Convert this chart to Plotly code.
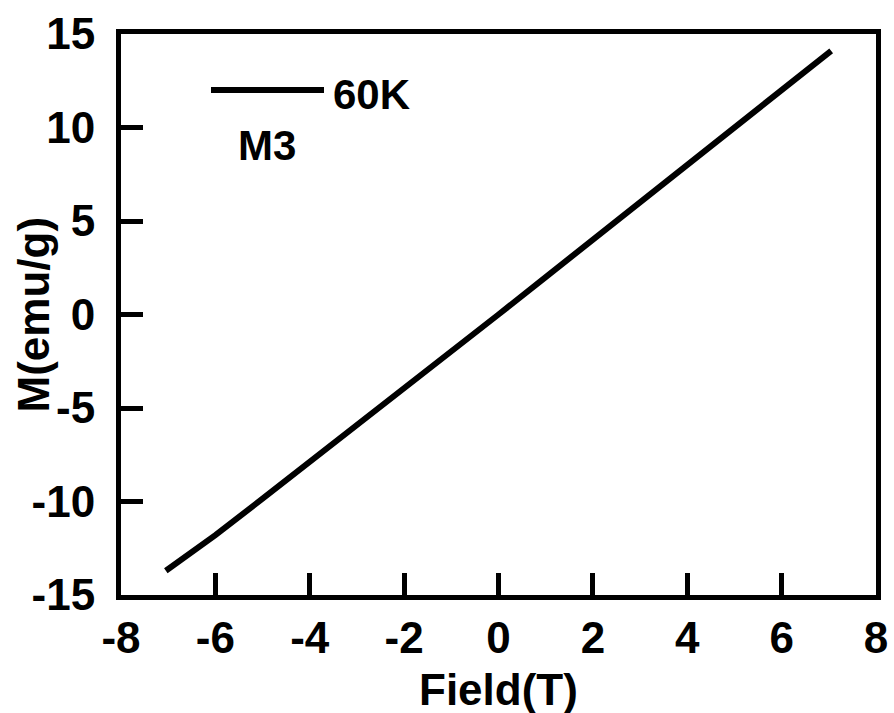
import plotly.graph_objects as go

# M(H) loop of sample M3 at 60 K
field_T = [-7.05, -6, -5, -4, -3, -2, -1, 0, 1, 2, 3, 4, 5, 6, 7.05]
moment_emu_g = [-13.7, -11.8, -9.85, -7.9, -5.9, -3.95, -1.97, 0.0,
                2.0, 4.0, 6.0, 8.05, 10.05, 12.05, 14.1]

x_ticks = [-8, -6, -4, -2, 0, 2, 4, 6, 8]
x_ticktext = ["-8", "-6", "-4", "-2", "0", "2", "4", "6", "8"]
y_ticks = [-15, -10, -5, 0, 5, 10, 15]
y_ticktext = ["-15", "-10", "-5", "0", "5", "10", "15"]

FONT = "Liberation Sans, Arial, sans-serif"

fig = go.Figure()
fig.add_trace(go.Scatter(
    x=field_T, y=moment_emu_g, mode="lines",
    line=dict(color="black", width=6),
    showlegend=False,
))

axis_common = dict(
    showline=True, linecolor="black", linewidth=5, mirror=True,
    ticks="inside", ticklen=22, tickwidth=5, tickcolor="black",
    showgrid=False, zeroline=False, automargin=False,
    tickfont=dict(family=FONT, size=44, color="black", weight="bold"),
)

fig.update_layout(
    width=894, height=713,
    margin=dict(l=121, r=18, t=34, b=118),
    paper_bgcolor="white", plot_bgcolor="white",
    xaxis=dict(range=[-8, 8], tickvals=x_ticks, ticktext=x_ticktext,
               ticklabelstandoff=0, **axis_common),
    yaxis=dict(range=[-15, 15], tickvals=y_ticks, ticktext=y_ticktext,
               ticklabelstandoff=12, **axis_common),
)

title_font = dict(family=FONT, size=44, color="black", weight="bold")
# Axis titles
fig.add_annotation(text="Field(T)", xref="paper", yref="paper",
                   x=0.5, y=(597 - 691) / 561, xanchor="center", yanchor="middle",
                   showarrow=False, font=title_font)
fig.add_annotation(text="M(emu/g)", xref="paper", yref="paper",
                   x=(35 - 123) / 755, y=0.5, xanchor="center", yanchor="middle",
                   textangle=-90, showarrow=False, font=title_font)

# Legend: line sample with label, sample name below
fig.add_shape(type="line", xref="paper", yref="paper",
              x0=(213 - 123) / 755, x1=(326 - 123) / 755,
              y0=(597 - 92) / 561, y1=(597 - 92) / 561,
              line=dict(color="black", width=6))
fig.add_annotation(text="60K", xref="paper", yref="paper",
                   x=(333 - 123) / 755, y=(597 - 96) / 561,
                   xanchor="left", yanchor="middle", showarrow=False,
                   font=dict(family=FONT, size=42, color="black", weight="bold"))
fig.add_annotation(text="M3", xref="paper", yref="paper",
                   x=(238 - 123) / 755, y=(597 - 148) / 561,
                   xanchor="left", yanchor="middle", showarrow=False,
                   font=dict(family=FONT, size=42, color="black", weight="bold"))

fig.write_html("out.html")
